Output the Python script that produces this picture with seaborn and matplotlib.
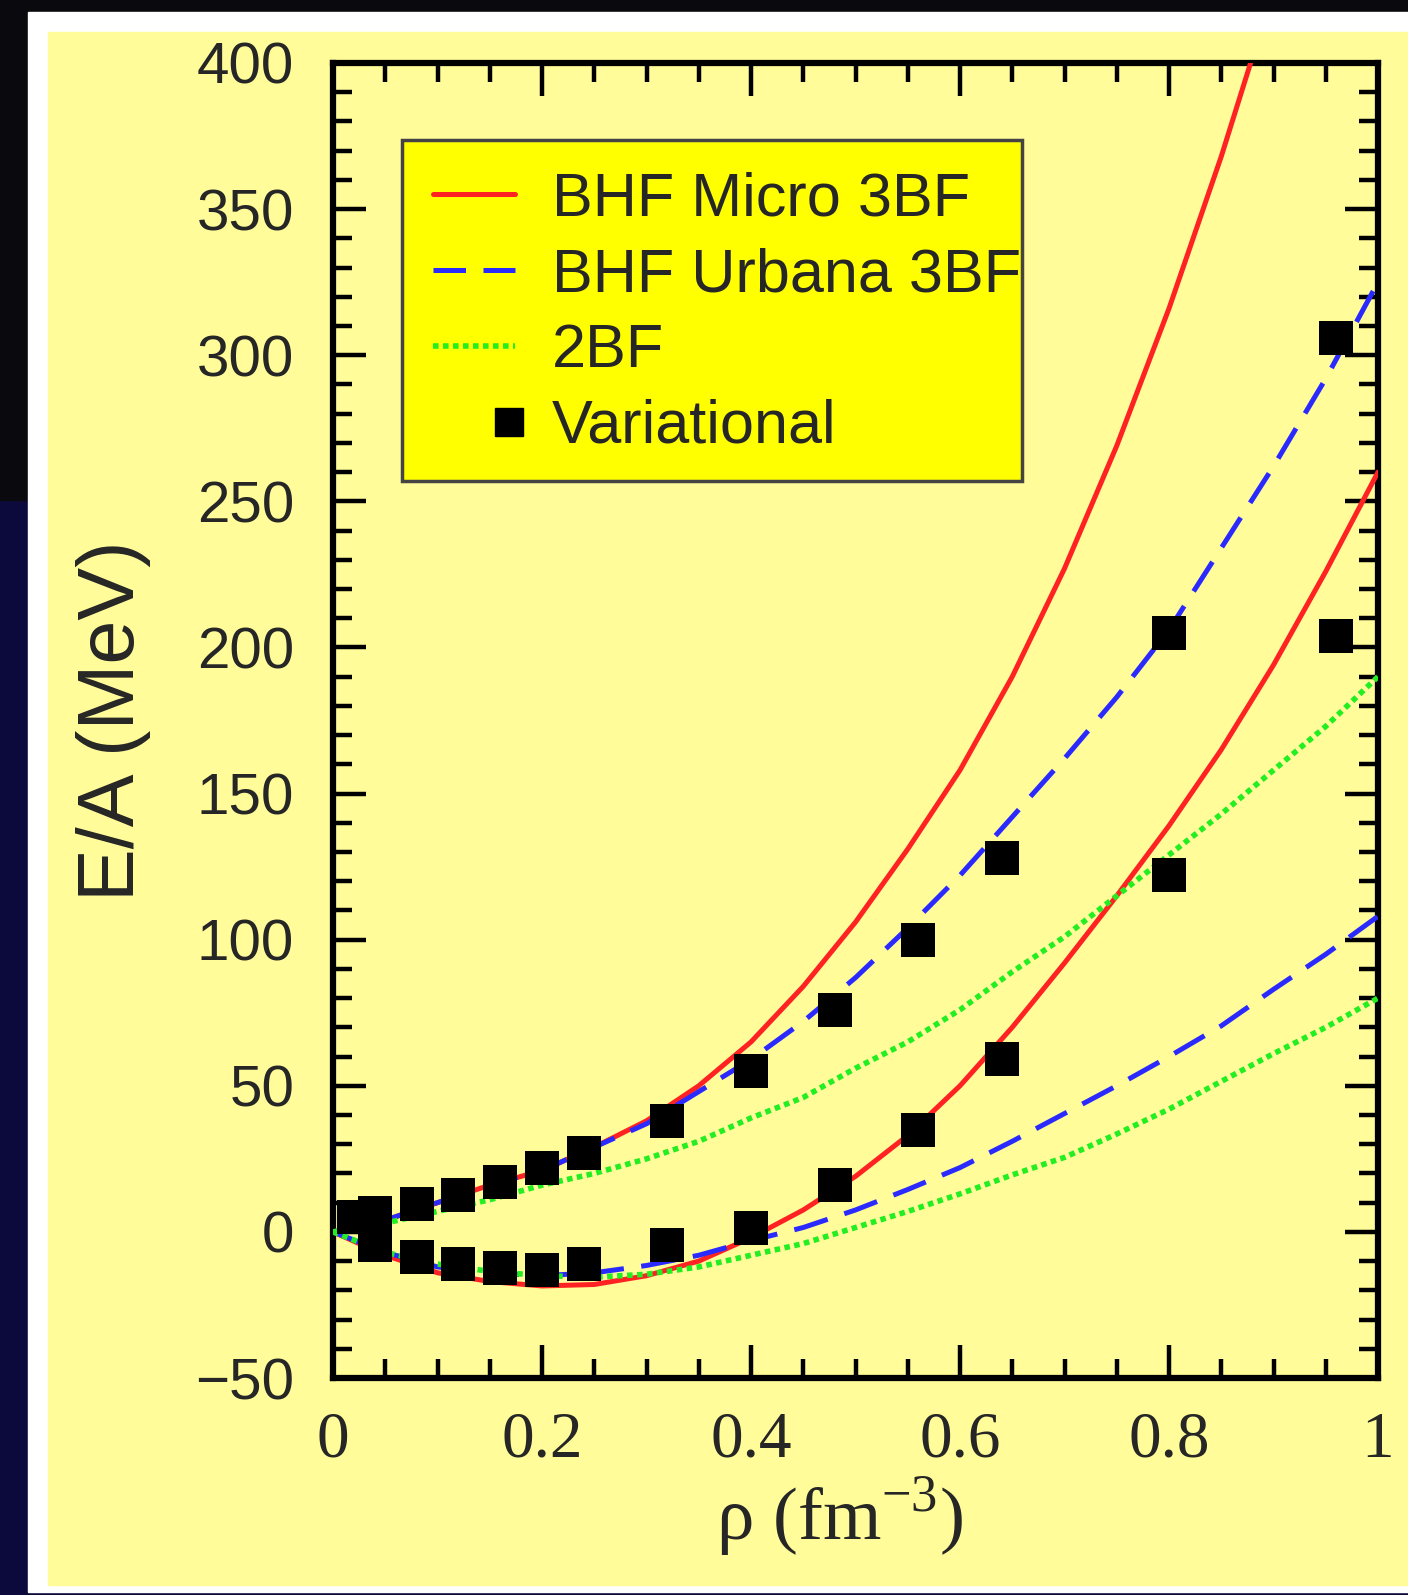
import numpy as np
import pandas as pd
import matplotlib
matplotlib.use("Agg")
import matplotlib.pyplot as plt
from matplotlib.patches import Rectangle
from matplotlib.lines import Line2D
from matplotlib.legend_handler import HandlerLine2D
import seaborn as sns

# density grid the curves were read at (fm^-3)
rho = [0.0, 0.05, 0.1, 0.15, 0.2, 0.25, 0.3, 0.35, 0.4, 0.45, 0.5,
       0.55, 0.6, 0.65, 0.7, 0.75, 0.8, 0.85, 0.9, 0.95, 1.0]

# neutron matter (upper set)
micro_pnm = [0, 4, 10, 16, 21, 29, 38, 50, 65, 84, 106,
             131, 158, 190, 227, 269, 316, 368, 425, 490, 565]
urbana_pnm = [0, 4, 10, 16, 21, 29, 37, 48, 59, 72, 87,
              104, 122, 142, 162, 183, 206, 234, 262, 292, 325]
twobf_pnm = [0, 3, 7, 11, 16, 20, 25, 31, 39, 46, 56,
             65, 76, 89, 101, 115, 129, 143, 158, 173, 190]

# symmetric matter (lower set)
micro_snm = [0, -8, -14, -17, -18.5, -18, -15, -10, -2, 7.5, 19,
             33, 50, 70, 92, 115, 139, 165, 194, 226, 260]
urbana_snm = [0, -7, -12, -14, -15, -14, -11.5, -8, -3, 1.5, 7.5,
              14.5, 22, 31, 40.5, 50, 60, 70.5, 83, 95, 108]
twobf_snm = [0, -7, -11, -13.5, -15, -15.5, -14.5, -12, -8, -4, 1.5,
             7, 13, 19.5, 25.5, 33.5, 42, 51.5, 61, 70, 80]

# variational points
var_pnm_rho = [0.02, 0.04, 0.08, 0.12, 0.16, 0.2, 0.24, 0.32, 0.4, 0.48, 0.56, 0.64, 0.8, 0.96]
var_pnm_ea = [5, 6.5, 9.5, 12.5, 17, 22, 27, 38, 55, 76, 100, 128, 205, 306]
var_snm_rho = [0.04, 0.08, 0.12, 0.16, 0.2, 0.24, 0.32, 0.4, 0.48, 0.56, 0.64, 0.8, 0.96]
var_snm_ea = [-4.5, -8.5, -11, -12.5, -13, -11, -4.5, 1.5, 16, 35, 59, 122, 204]

labels = ["BHF Micro 3BF", "BHF Urbana 3BF", "2BF", "Variational"]

RED = "#ff2222"
BLUE = "#2a2aff"
GREEN = "#22ee22"
PANEL = "#fffc99"
DASH = (0, (7, 3.5))
DOT = (0, (1, 0.8))


class RightMarker(HandlerLine2D):
    # put the legend square at the right end of the handle, like the original
    def get_xdata(self, legend, xdescent, ydescent, width, height, fontsize):
        x = np.array([-xdescent + width * 0.93])
        return x, x


sns.set_style("ticks")
plt.rcParams['font.family'] = ['Liberation Sans', 'DejaVu Sans']
plt.rcParams['mathtext.fontset'] = 'custom'
plt.rcParams['mathtext.rm'] = 'Liberation Serif'

fig = plt.figure(figsize=(14.08, 15.95), dpi=100)
fig.patch.set_facecolor("#0c0a3c")
W, H = 1408, 1595
fig.add_artist(Rectangle((0, 1 - 500 / H), 1, 500 / H, transform=fig.transFigure,
                         color="#0a0a0e", zorder=0))
fig.add_artist(Rectangle((28 / W, 3 / H), 1, 1 - 15 / H, transform=fig.transFigure,
                         color="white", zorder=0))
fig.add_artist(Rectangle((48 / W, 10 / H), 1, 1 - 42 / H, transform=fig.transFigure,
                         color=PANEL, zorder=0))

ax = fig.add_axes([333 / W, 1 - 1378 / H, 1045 / W, 1315 / H])
ax.set_facecolor(PANEL)

curves = [
    (micro_pnm, RED, "-", 3.6), (micro_snm, RED, "-", 3.6),
    (urbana_pnm, BLUE, DASH, 3.6), (urbana_snm, BLUE, DASH, 3.6),
    (twobf_pnm, GREEN, DOT, 4.0), (twobf_snm, GREEN, DOT, 4.0),
]
for vals, col, ls, lw in curves:
    sns.lineplot(x=rho, y=vals, color=col, linestyle=ls, linewidth=lw, ax=ax,
                 sort=False, zorder=3)

sns.scatterplot(x=var_pnm_rho, y=var_pnm_ea, marker="s", s=620, color="black",
                edgecolor="black", linewidth=0, ax=ax, zorder=4)
sns.scatterplot(x=var_snm_rho, y=var_snm_ea, marker="s", s=620, color="black",
                edgecolor="black", linewidth=0, ax=ax, zorder=4)

ax.set_xlim(0, 1)
ax.set_ylim(-50, 400)
ax.set_xticks([0, 0.2, 0.4, 0.6, 0.8, 1.0])
ax.set_xticklabels(["0", "0.2", "0.4", "0.6", "0.8", "1"])
ax.set_yticks(np.arange(-50, 401, 50))
ax.set_xticks(np.arange(0, 1.001, 0.05), minor=True)
ax.set_yticks(np.arange(-50, 401, 10), minor=True)
ax.tick_params(which="both", direction="in", top=True, right=True, color="black")
ax.tick_params(which="major", length=24, width=3.2)
ax.tick_params(which="minor", length=14, width=3.2)
ax.tick_params(axis="y", labelsize=42, pad=28)
ax.tick_params(axis="x", labelsize=47, pad=24)
for lab in ax.get_xticklabels():
    lab.set_family("Liberation Serif")
for sp in ax.spines.values():
    sp.set_linewidth(4.5)
    sp.set_color("black")

ax.set_ylabel("E/A (MeV)", fontsize=57)
ax.yaxis.set_label_coords(-0.174, 0.5)
ax.set_xlabel("ρ (fm$^{-3}$)", fontsize=54, family="Liberation Serif")
ax.xaxis.set_label_coords(0.485, -0.105)
ax.xaxis.label.set_va("center")

# legend box drawn separately so its padding matches the original
ax.add_patch(Rectangle((0.066, 0.682), 0.593, 0.2594, transform=ax.transAxes,
                       facecolor="#ffff00", edgecolor="#444444", linewidth=2.5,
                       zorder=5))
handles = [
    Line2D([], [], color=RED, lw=3.6),
    Line2D([], [], color=BLUE, lw=3.6, linestyle=(0, (6.5, 3.5))),
    Line2D([], [], color=GREEN, lw=4.0, linestyle=DOT),
    Line2D([], [], color="black", marker="s", markersize=20, linestyle="none"),
]
leg = ax.legend(handles, labels, loc="upper left", bbox_to_anchor=(0.066, 0.941),
                fontsize=44, frameon=False, handlelength=1.35,
                handletextpad=0.6, labelspacing=0.31, borderpad=0.5,
                borderaxespad=0, handler_map={handles[3]: RightMarker()})
leg.set_zorder(6)

fig.savefig("out.png", dpi=100, facecolor=fig.get_facecolor())
